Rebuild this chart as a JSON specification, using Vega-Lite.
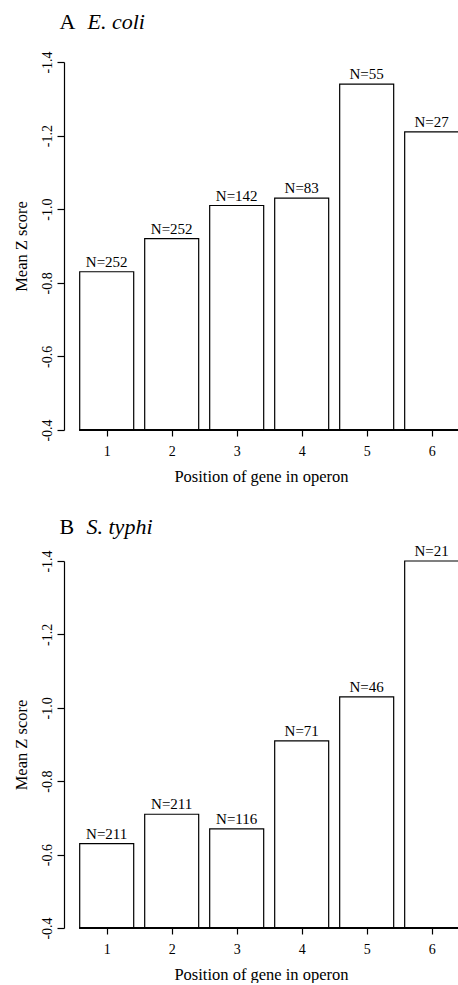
{
  "$schema": "https://vega.github.io/schema/vega-lite/v6.json",
  "background": "white",
  "padding": {"left": 13, "top": 10, "right": 0, "bottom": 0},
  "autosize": {"type": "pad"},
  "spacing": 30,
  "config": {
    "font": "Liberation Serif",
    "view": {"stroke": null},
    "axis": {
      "labelFont": "Liberation Serif",
      "titleFont": "Liberation Serif",
      "labelColor": "black",
      "titleColor": "black",
      "tickColor": "black",
      "domainColor": "black",
      "titleFontWeight": "normal",
      "grid": false,
      "labelFontSize": 14,
      "titleFontSize": 16.5
    }
  },
  "datasets": {
    "ecoli": [
      {"position": 1, "z": -0.83, "label": "N=252"},
      {"position": 2, "z": -0.92, "label": "N=252"},
      {"position": 3, "z": -1.01, "label": "N=142"},
      {"position": 4, "z": -1.03, "label": "N=83"},
      {"position": 5, "z": -1.34, "label": "N=55"},
      {"position": 6, "z": -1.21, "label": "N=27"}
    ],
    "styphi": [
      {"position": 1, "z": -0.63, "label": "N=211"},
      {"position": 2, "z": -0.71, "label": "N=211"},
      {"position": 3, "z": -0.67, "label": "N=116"},
      {"position": 4, "z": -0.91, "label": "N=71"},
      {"position": 5, "z": -1.03, "label": "N=46"},
      {"position": 6, "z": -1.40, "label": "N=21"}
    ]
  },
  "vconcat": [
    {
      "width": 394,
      "height": 368,
      "data": {"name": "ecoli"},
      "layer": [
        {
          "layer": [
            {
              "mark": {"type": "bar", "fill": "white", "stroke": "black", "strokeWidth": 1.2, "width": 54},
              "encoding": {
                "x": {
                  "field": "position", "type": "quantitative",
                  "scale": {"domain": [0.343, 6.405], "nice": false, "zero": false, "padding": 0},
                  "axis": {"values": [1, 2, 3, 4, 5, 6], "format": "d", "domain": false, "tickSize": 6, "tickWidth": 1.2, "labelPadding": 8, "labelFlush": false, "labelOverlap": false, "title": "Position of gene in operon", "titlePadding": 10}
                },
                "y": {
                  "field": "z", "type": "quantitative",
                  "scale": {"domain": [-1.4, -0.4], "reverse": true, "nice": false, "zero": false, "padding": 0},
                  "axis": {"values": [-1.4, -1.2, -1.0, -0.8, -0.6, -0.4], "format": ".1f", "labelExpr": "replace(datum.label, '\u2212', '-')", "domain": true, "domainWidth": 1.2, "tickSize": 7, "tickWidth": 1.2, "labelAngle": 270, "labelAlign": "center", "labelBaseline": "bottom", "labelPadding": 3, "labelOverlap": false, "title": "Mean Z score", "titlePadding": 11}
                },
                "y2": {"datum": -0.4}
              }
            },
            {
              "mark": {"type": "rule", "color": "black", "strokeWidth": 1.2},
              "encoding": {"x": {"datum": 0.58}, "x2": {"datum": 6.405}, "y": {"datum": -0.4}}
            }
          ]
        },
        {
          "mark": {"type": "text", "dy": -5, "fontSize": 15, "color": "black", "baseline": "alphabetic", "align": "center"},
          "encoding": {
            "x": {
              "field": "position", "type": "quantitative",
              "scale": {"domain": [0.343, 6.405], "nice": false, "zero": false, "padding": 0},
              "axis": {"orient": "top", "labels": false, "ticks": false, "domain": false, "title": "A", "titleFontSize": 22, "titleX": -5, "titleY": -34, "titleAlign": "left", "titleBaseline": "alphabetic", "titleAngle": 0}
            },
            "y": {
              "field": "z", "type": "quantitative",
              "scale": {"domain": [-1.4, -0.4], "reverse": true, "nice": false, "zero": false, "padding": 0},
              "axis": {"orient": "right", "labels": false, "ticks": false, "domain": false, "title": "E. coli", "titleFontSize": 22, "titleFontStyle": "italic", "titleX": -371, "titleY": -34, "titleAlign": "left", "titleBaseline": "alphabetic", "titleAngle": 0}
            },
            "text": {"field": "label"}
          }
        }
      ],
      "resolve": {"scale": {"x": "independent", "y": "independent"}}
    },
    {
      "width": 394,
      "height": 367,
      "data": {"name": "styphi"},
      "layer": [
        {
          "layer": [
            {
              "mark": {"type": "bar", "fill": "white", "stroke": "black", "strokeWidth": 1.2, "width": 54},
              "encoding": {
                "x": {
                  "field": "position", "type": "quantitative",
                  "scale": {"domain": [0.343, 6.405], "nice": false, "zero": false, "padding": 0},
                  "axis": {"values": [1, 2, 3, 4, 5, 6], "format": "d", "domain": false, "tickSize": 6, "tickWidth": 1.2, "labelPadding": 8, "labelFlush": false, "labelOverlap": false, "title": "Position of gene in operon", "titlePadding": 10}
                },
                "y": {
                  "field": "z", "type": "quantitative",
                  "scale": {"domain": [-1.4, -0.4], "reverse": true, "nice": false, "zero": false, "padding": 0},
                  "axis": {"values": [-1.4, -1.2, -1.0, -0.8, -0.6, -0.4], "format": ".1f", "labelExpr": "replace(datum.label, '\u2212', '-')", "domain": true, "domainWidth": 1.2, "tickSize": 7, "tickWidth": 1.2, "labelAngle": 270, "labelAlign": "center", "labelBaseline": "bottom", "labelPadding": 3, "labelOverlap": false, "title": "Mean Z score", "titlePadding": 11}
                },
                "y2": {"datum": -0.4}
              }
            },
            {
              "mark": {"type": "rule", "color": "black", "strokeWidth": 1.2},
              "encoding": {"x": {"datum": 0.58}, "x2": {"datum": 6.405}, "y": {"datum": -0.4}}
            }
          ]
        },
        {
          "mark": {"type": "text", "dy": -5, "fontSize": 15, "color": "black", "baseline": "alphabetic", "align": "center"},
          "encoding": {
            "x": {
              "field": "position", "type": "quantitative",
              "scale": {"domain": [0.343, 6.405], "nice": false, "zero": false, "padding": 0},
              "axis": {"orient": "top", "labels": false, "ticks": false, "domain": false, "title": "B", "titleFontSize": 22, "titleX": -5, "titleY": -28, "titleAlign": "left", "titleBaseline": "alphabetic", "titleAngle": 0}
            },
            "y": {
              "field": "z", "type": "quantitative",
              "scale": {"domain": [-1.4, -0.4], "reverse": true, "nice": false, "zero": false, "padding": 0},
              "axis": {"orient": "right", "labels": false, "ticks": false, "domain": false, "title": "S. typhi", "titleFontSize": 22, "titleFontStyle": "italic", "titleX": -372, "titleY": -28, "titleAlign": "left", "titleBaseline": "alphabetic", "titleAngle": 0}
            },
            "text": {"field": "label"}
          }
        }
      ],
      "resolve": {"scale": {"x": "independent", "y": "independent"}}
    }
  ]
}
